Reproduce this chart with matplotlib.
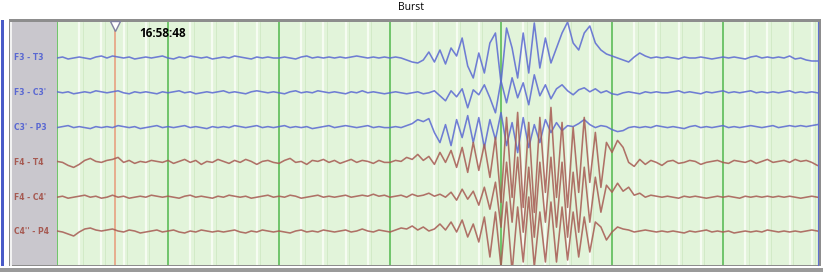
import numpy as np
import matplotlib
matplotlib.use('Agg')
import matplotlib.pyplot as plt
from matplotlib.patches import Rectangle

# sampling step of the traces (s), major grid = 1 s
STEP = 0.05

CHANNELS = ["F3 - T3", "F3 - C3'", "C3' - P3", "F4 - T4", "F4 - C4'", "C4'' - P4"]

f3_t3 = [0, 1, -1, 0, 1, 0, -1, 1, 2, 0,
         2, 1, 0, 1, -1, 0, 1, 0, 1, 2,
         0, -1, 1, 0, 2, 1, 0, 1, -1, 0,
         1, 0, 2, 1, 0, -1, 1, 0, 1, 0,
         0, 1, 0, -1, 1, 2, 0, 1, 0, 1,
         0, 1, 0, 1, 2, 1, 0, 1, 0, 1,
         0, 1, 0, -2, -4, -5, -2, 6, -4, 8,
         -6, 10, 2, 20, -8, -20, 5, -15, 15, 25,
         -25, 30, 10, -20, 25, -15, 35, -10, 20, -5,
         10, 25, 36, 15, 8, 25, 32, 15, 8, 4,
         2, 0, -2, -4, 1, 5, 2, 0, 1, 0,
         1, 0, -1, 1, 0, 0, 1, 0, -1, 0,
         1, 0, 1, 0, -1, 1, 2, 0, 1, 0,
         1, 0, 2, -1, 0, -2, -3, -3]

f3_c3 = [1, 0, 1, -1, 0, 1, 0, 2, 1, 0,
         1, 2, 0, -1, 1, 0, 1, 0, -1, 1,
         0, 1, 2, 0, 1, -1, 0, 1, 0, 1,
         2, 0, 1, 0, -1, 1, 2, 1, 0, 1,
         0, -1, 1, 2, 0, 1, 0, 2, 1, 0,
         1, 0, -1, 1, 0, 2, 0, 1, 0, -1,
         0, 1, 0, -1, 0, 1, -1, 0, 2, -3,
         -8, 2, -4, 4, -15, 3, -2, 8, -5, -20,
         12, -10, 15, -5, 10, -12, 18, -3, 8, -6,
         4, 8, 2, -2, 3, 5, 1, 4, 0, 2,
         -1, -2, 0, 1, 0, -1, 1, 0, 1, 0,
         0, 1, 2, 0, 1, 0, -1, 1, 0, 1,
         2, 0, 1, 0, 1, 2, 0, 1, 0, 1,
         0, 1, 2, 0, 1, 0, 1, 0]

c3_p3 = [0, 1, 2, 0, 1, 0, -1, 1, 0, 1,
         0, 2, 1, 0, 1, -1, 0, 1, 2, 0,
         1, 0, 1, 2, 0, 1, 0, -1, 1, 0,
         1, 0, 2, 1, 0, 1, 2, 0, 1, 0,
         1, 2, 0, 1, 0, 1, -1, 0, 1, 2,
         0, 1, 2, 1, 0, 1, 2, 0, 1, 0,
         0, 1, 0, 2, 4, 8, 6, 9, -5, -15,
         3, -18, 8, -10, 12, -15, 10, -20, 8, -12,
         15, -18, 5, -25, 10, -20, 3, -15, 8, -5,
         5, -3, 2, 1, 4, 8, 3, 0, 2, 1,
         -2, -4, -3, 0, 1, 0, 1, 0, 2, 1,
         0, 1, 0, -1, 1, 2, 0, 1, 0, 1,
         2, 0, 1, 0, 1, 2, 1, 0, 1, 2,
         0, 1, 2, 1, 2, 1, 2, 3]

f4_t4 = [1, 0, -3, -5, -2, 2, 4, 1, 0, 2,
         3, 5, 0, 2, -1, 1, 0, 2, 1, 0,
         2, -1, 1, 3, 0, 2, -2, 1, 0, 3,
         1, -1, 2, 0, 3, 1, -2, 1, 2, 0,
         -1, 2, 4, 0, 1, -2, 2, 1, 3, 0,
         2, -1, 1, 3, 0, 2, 1, -1, 2, 0,
         0, 2, 1, 5, 3, 8, 2, 6, -2, 10,
         0, 12, -5, 15, -10, 20, -8, 18, -15, 25,
         -40, 45, -35, 50, -45, 40, -50, 45, -30, 55,
         -35, 40, -45, 35, -30, 45, -20, 30, -25, 20,
         10, 22, 15, 0, -4, 3, -2, 2, 0, -3,
         1, 2, -1, 0, 2, 1, -2, 0, 1, 2,
         0, -1, 2, 1, 0, 2, -1, 1, 3, 0,
         1, 2, 0, 3, 1, 2, 0, -3]

f4_c4 = [0, 1, -1, 0, 1, 2, 0, 1, -1, 0,
         2, 0, 1, -1, 0, 1, 0, 2, 1, 0,
         1, 0, -1, 1, 2, 0, 1, 0, -1, 1,
         0, 2, 1, 0, 1, -1, 0, 1, 2, 0,
         1, 0, 2, 1, -1, 0, 1, 2, 0, 1,
         0, 1, 2, 0, 1, 2, 1, 3, 1, 2,
         0, 1, 2, 0, 3, 1, 2, 4, 1, 3,
         0, 5, -3, 8, -2, 6, -8, 10, -12, 15,
         -30, 35, -25, 40, -35, 30, -40, 35, -25, 40,
         -30, 35, -40, 25, -35, 30, -25, 20, -15, 12,
         5, 14, 6, 10, 2, 4, 0, 2, 1, 0,
         1, 0, -1, 1, 0, 1, 0, -1, 0, 1,
         0, 1, 0, -1, 1, 0, 1, 0, 1, 0,
         1, 0, 1, 0, -1, 0, 1, 0]

c4_p4 = [1, 0, -2, -4, 0, 3, 4, 2, 1, 2,
         3, 1, 0, 2, 1, -1, 0, 1, 2, 0,
         1, 2, 0, -1, 1, 0, 2, 1, 0, 1,
         0, 1, 2, 0, -1, 1, 0, 2, 1, 0,
         1, 0, -1, 1, 2, 0, 1, 0, 2, 1,
         0, 1, 2, 0, 1, 3, 1, 0, 2, 1,
         0, 2, 4, 3, 6, 2, 5, 1, 3, 8,
         2, 10, 0, 12, -5, 8, -10, 15, -25, 20,
         -35, 30, -40, 25, -30, 35, -35, 20, -30, 30,
         -30, 25, -28, 20, -25, 15, -20, 10, 5, -8,
         0, 5, 3, 2, 0, 1, 2, 1, 0, 1,
         0, 1, 0, -1, 1, 0, 1, 2, 0, 1,
         0, 1, -1, 0, 1, 0, 1, 0, 2, 1,
         0, 1, 0, 1, 0, 1, 2, 1]

TRACES = [f3_t3, f3_c3, c3_p3, f4_t4, f4_c4, c4_p4]
MARKER_TIME = 0.52
MARKER_LABEL = "16:58:48"
TITLE = "Burst"

BLUE = '#5a68d2'
RED = '#a65a52'


def draw_frame(fig):
    # grey window chrome around the trace area, behind the axes
    fig.patches.append(Rectangle((9 / 823, 4 / 272), 812 / 823, 249 / 272,
                                 transform=fig.transFigure, facecolor='#8d8d8d',
                                 edgecolor='none', zorder=-5))
    fig.patches.append(Rectangle((10 / 823, 6 / 272), 2 / 823, 244 / 272,
                                 transform=fig.transFigure, facecolor='#f2f2f2',
                                 edgecolor='none', zorder=-4))
    fig.patches.append(Rectangle((1 / 823, 0), 3 / 823, 252 / 272,
                                 transform=fig.transFigure, facecolor='#4a5bc8',
                                 edgecolor='none', zorder=-5))
    fig.patches.append(Rectangle((0, 0), 1, 4 / 272,
                                 transform=fig.transFigure, facecolor='#9a9a9a',
                                 edgecolor='none', zorder=-4))
    fig.patches.append(Rectangle((0, 4 / 272), 1, 2 / 272,
                                 transform=fig.transFigure, facecolor='white',
                                 edgecolor='none', zorder=-4))


def main():
    fig = plt.figure(figsize=(8.23, 2.72), dpi=100)
    draw_frame(fig)
    fig.text(411 / 823, 1 - 8 / 272, TITLE, ha='center', va='center',
             fontsize=7.5, family='Open Sans')

    # channel label panel
    lab = fig.add_axes([12 / 823, 7 / 272, 45 / 823, 243 / 272])
    lab.set_facecolor('#c9c7cd')
    lab.set_xlim(0, 1)
    lab.set_ylim(-207, 36)
    lab.set_xticks([])
    lab.set_yticks([])
    for s in lab.spines.values():
        s.set_visible(False)

    ax = fig.add_axes([57 / 823, 7 / 272, 761 / 823, 243 / 272])
    ax.set_facecolor('#e2f4da')
    n = len(f3_t3)
    t = np.arange(n) * STEP
    x_end = 761 / 111
    ax.set_xlim(0, x_end)
    ax.set_ylim(-207, 36)

    # minor / major time grid
    for xm in np.arange(0.2, x_end, 0.2):
        if abs(xm - round(xm)) < 1e-6:
            continue
        ax.axvline(xm, color='#f6fcf2', lw=1.6, zorder=1)
        ax.axvline(xm + 0.03, color='#cfe9c4', lw=0.6, zorder=1)
    for xm in range(0, int(x_end) + 1):
        ax.axvline(xm, color='#6fc46a', lw=1.4, zorder=2)

    spacing = 34.8
    for i, (name, tr) in enumerate(zip(CHANNELS, TRACES)):
        col = BLUE if i < 3 else RED
        base = -i * spacing
        ax.plot(t, base + np.array(tr), color=col, lw=1.15, alpha=0.85, zorder=4)
        lab.text(0.04, base, name, color=col, fontsize=5.5, fontweight='bold',
                 ha='left', va='center', family='DejaVu Sans')

    # cursor line with marker
    ax.axvline(MARKER_TIME, color='#e8a080', lw=1.2, zorder=3)
    ax.plot([MARKER_TIME], [32], marker='v', markersize=7, markerfacecolor='white',
            markeredgecolor='#8080a0', zorder=6, clip_on=False)
    ax.text(MARKER_TIME + 0.22, 24, MARKER_LABEL, fontsize=8.5, fontweight='bold',
            ha='left', va='center', family='Open Sans', zorder=6)

    ax.set_xticks([])
    ax.set_yticks([])
    for s in ax.spines.values():
        s.set_visible(False)
    ax.spines['right'].set_visible(True)
    ax.spines['right'].set_color('#6070d0')

    fig.savefig('out.png', dpi=100)


main()
